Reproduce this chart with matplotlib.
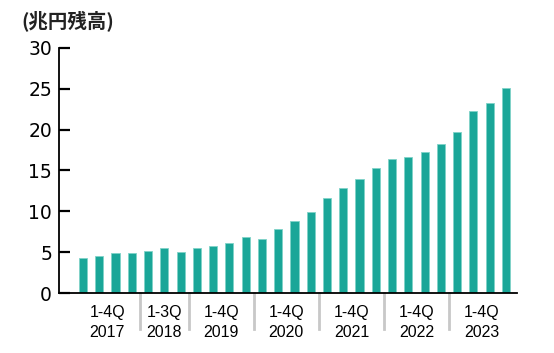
import matplotlib
matplotlib.use("Agg")
import matplotlib.pyplot as plt
from matplotlib import font_manager
import matplotlib.transforms as mtransforms

values = [4.35, 4.55, 4.88, 4.96, 5.13, 5.49, 5.04, 5.53, 5.78, 6.14, 6.87, 6.59,
          7.89, 8.83, 9.96, 11.64, 12.86, 13.96, 15.34, 16.40, 16.60, 17.30, 18.20,
          19.66, 22.30, 23.24, 25.07]
group_periods = ["1-4Q", "1-3Q", "1-4Q", "1-4Q", "1-4Q", "1-4Q", "1-4Q"]
group_years = ["2017", "2018", "2019", "2020", "2021", "2022", "2023"]
group_sizes = [4, 3, 4, 4, 4, 4, 4]
y_ticks = [0, 5, 10, 15, 20, 25, 30]
unit_label = "(兆円残高)"

names = {f.name for f in font_manager.fontManager.ttflist}
narrow = "Liberation Sans Narrow" if "Liberation Sans Narrow" in names else "Liberation Sans"
xsize = 12.5 if narrow == "Liberation Sans Narrow" else 11.5

fig = plt.figure(figsize=(5.54, 3.53), dpi=100)
ax = fig.add_axes([59/554, 0.169, (517-59)/554, 0.865-0.169])

color = "#1aa698"
x = list(range(len(values)))
ax.bar(x, values, width=0.5, color=color, edgecolor="#7fd3c8", linewidth=0.6)

ax.set_xlim(-1.475, 26.68)
ax.set_ylim(0, 30)
ax.set_yticks(y_ticks)
ax.set_yticklabels([str(v) for v in y_ticks], fontfamily="DejaVu Sans", fontsize=13.5)
ax.tick_params(axis="y", direction="in", length=8, width=1.6, pad=5, colors="black")
ax.set_xticks([])
for s in ["top", "right"]:
    ax.spines[s].set_visible(False)
ax.spines["left"].set_linewidth(1.3)
ax.spines["bottom"].set_linewidth(1.3)

trans = mtransforms.blended_transform_factory(ax.transData, ax.transAxes)
start = 0
for i, (p, yr, n) in enumerate(zip(group_periods, group_years, group_sizes)):
    center = start + (n - 1) / 2
    ax.text(center, -0.078, p, transform=trans, ha="center", va="center",
            fontsize=xsize, fontfamily=narrow, color="black")
    ax.text(center, -0.16, yr, transform=trans, ha="center", va="center",
            fontsize=xsize, fontfamily=narrow, color="black")
    if i > 0:
        ax.plot([start - 0.5, start - 0.5], [0, -0.145], transform=trans,
                color="#c8c8c8", linewidth=2, clip_on=False)
    start += n

fig.text(21/554, 1 - 22/353, unit_label, ha="left", va="center", fontsize=14,
         fontweight="bold", fontfamily=["Noto Sans CJK JP", "DejaVu Sans"], color="#222222")

fig.savefig("out.png", dpi=100)
